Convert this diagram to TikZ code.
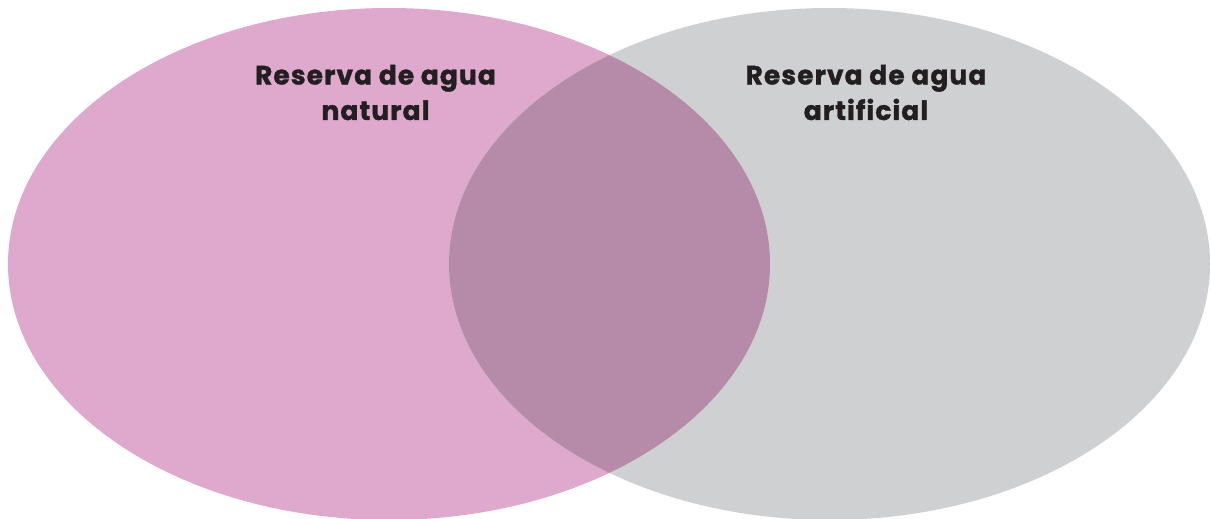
\documentclass[tikz,border=0pt]{standalone}
\usepackage{fontspec}
\setmainfont{Poppins}
\newfontfamily\labelfont{Poppins}[LetterSpace=4,BoldFeatures={FakeBold=1.2}]
\definecolor{pinkfill}{HTML}{DFA8CD}
\definecolor{grayfill}{HTML}{CFD0D2}
\definecolor{overlapfill}{HTML}{B68AA9}
\definecolor{textdark}{HTML}{231F20}
\begin{document}
\begin{tikzpicture}[x=1pt,y=-1pt,
  label/.style={align=center,inner sep=0pt,text=textdark,
    font=\labelfont\fontsize{26.5}{35.5}\selectfont\bfseries,anchor=base}]
\useasboundingbox (0,0) rectangle (1211,519);
\fill[pinkfill] (389,264) ellipse [x radius=381,y radius=256];
\fill[grayfill] (829.5,264) ellipse [x radius=380.5,y radius=256];
\begin{scope}
  \clip (389,264) ellipse [x radius=381,y radius=256];
  \fill[overlapfill] (829.5,264) ellipse [x radius=380.5,y radius=256];
\end{scope}
\node[label] (natural) at (375.5,120) {Reserva de agua\\natural};
\node[label] (artificial) at (866,120) {Reserva de agua\\artificial};
\end{tikzpicture}
\end{document}
